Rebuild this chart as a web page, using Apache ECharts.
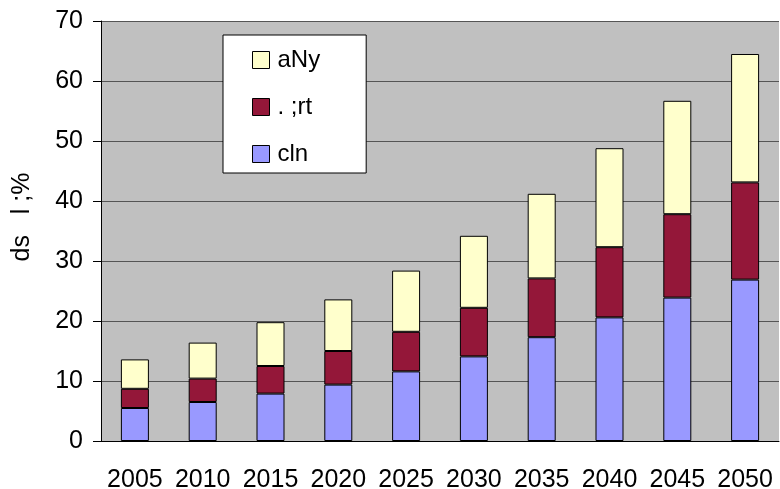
<!DOCTYPE html>
<html>
<head>
<meta charset="utf-8">
<script src="https://cdn.jsdelivr.net/npm/echarts@6/dist/echarts.min.js"></script>
<style>html,body{margin:0;padding:0;background:#fff;}#c{width:780px;height:489px;}</style>
</head>
<body>
<div id="c"></div>
<script>
const categories = ['2005','2010','2015','2020','2025','2030','2035','2040','2045','2050'];
const clnValues = [5.5, 6.5, 7.9, 9.4, 11.6, 14.1, 17.3, 20.6, 23.9, 26.9];
const rtValues  = [3.2, 3.9, 4.6, 5.6, 6.6, 8.1, 9.8, 11.7, 13.9, 16.2];
const anyValues = [4.9, 6.0, 7.3, 8.6, 10.2, 12.0, 14.1, 16.5, 18.9, 21.4];
const seriesNames = ['cln', '. ;rt', 'aNy'];
const yAxisName = 'ds   l ;%';

const colors = ['#9999FF', '#941739', '#FFFFCC'];
const chart = echarts.init(document.getElementById('c'));
const font = 'Liberation Sans, Arial, sans-serif';
const mk = (name, data, color) => ({
  name, type: 'bar', stack: 'total', data, barWidth: 28,
  itemStyle: { color, borderColor: '#000', borderWidth: 1 }
});
chart.setOption({
  animation: false,
  grid: { left: 101, right: 1, top: 21, bottom: 48, show: true, backgroundColor: '#C0C0C0', borderWidth: 0,
          containLabel: false, outerBoundsMode: 'none' },
  legend: {
    orient: 'vertical', left: 223, top: 35, icon: 'rect',
    data: [seriesNames[2], seriesNames[1], seriesNames[0]],
    backgroundColor: '#fff', borderColor: '#000', borderWidth: 1,
    padding: [13, 46, 7, 29], itemGap: 23, itemWidth: 17, itemHeight: 17,
    textStyle: { fontFamily: font, fontSize: 24, color: '#000', padding: [0, 0, 0, 3] },
    itemStyle: { borderColor: '#000', borderWidth: 1 }
  },
  xAxis: {
    type: 'category', data: categories,
    axisLine: { lineStyle: { color: '#000' } },
    axisTick: { length: 6, lineStyle: { color: '#000' } },
    axisLabel: { interval: 0, hideOverlap: false, fontFamily: font, fontSize: 25, color: '#000', margin: 27 }
  },
  yAxis: {
    type: 'value', min: 0, max: 70, interval: 10,
    name: yAxisName, nameLocation: 'middle', nameGap: 66, nameRotate: 90,
    nameTextStyle: { fontFamily: font, fontSize: 25, color: '#000', padding: [0, 0, 0, 28] },
    axisLine: { show: true, lineStyle: { color: '#000' } },
    axisTick: { show: true, length: 8, lineStyle: { color: '#000' } },
    axisLabel: { fontFamily: font, fontSize: 25, color: '#000', margin: 18 },
    splitLine: { lineStyle: { color: '#555', width: 1.2 } }
  },
  series: [mk(seriesNames[0], clnValues, colors[0]), mk(seriesNames[1], rtValues, colors[1]), mk(seriesNames[2], anyValues, colors[2])]
});
</script>
</body>
</html>
